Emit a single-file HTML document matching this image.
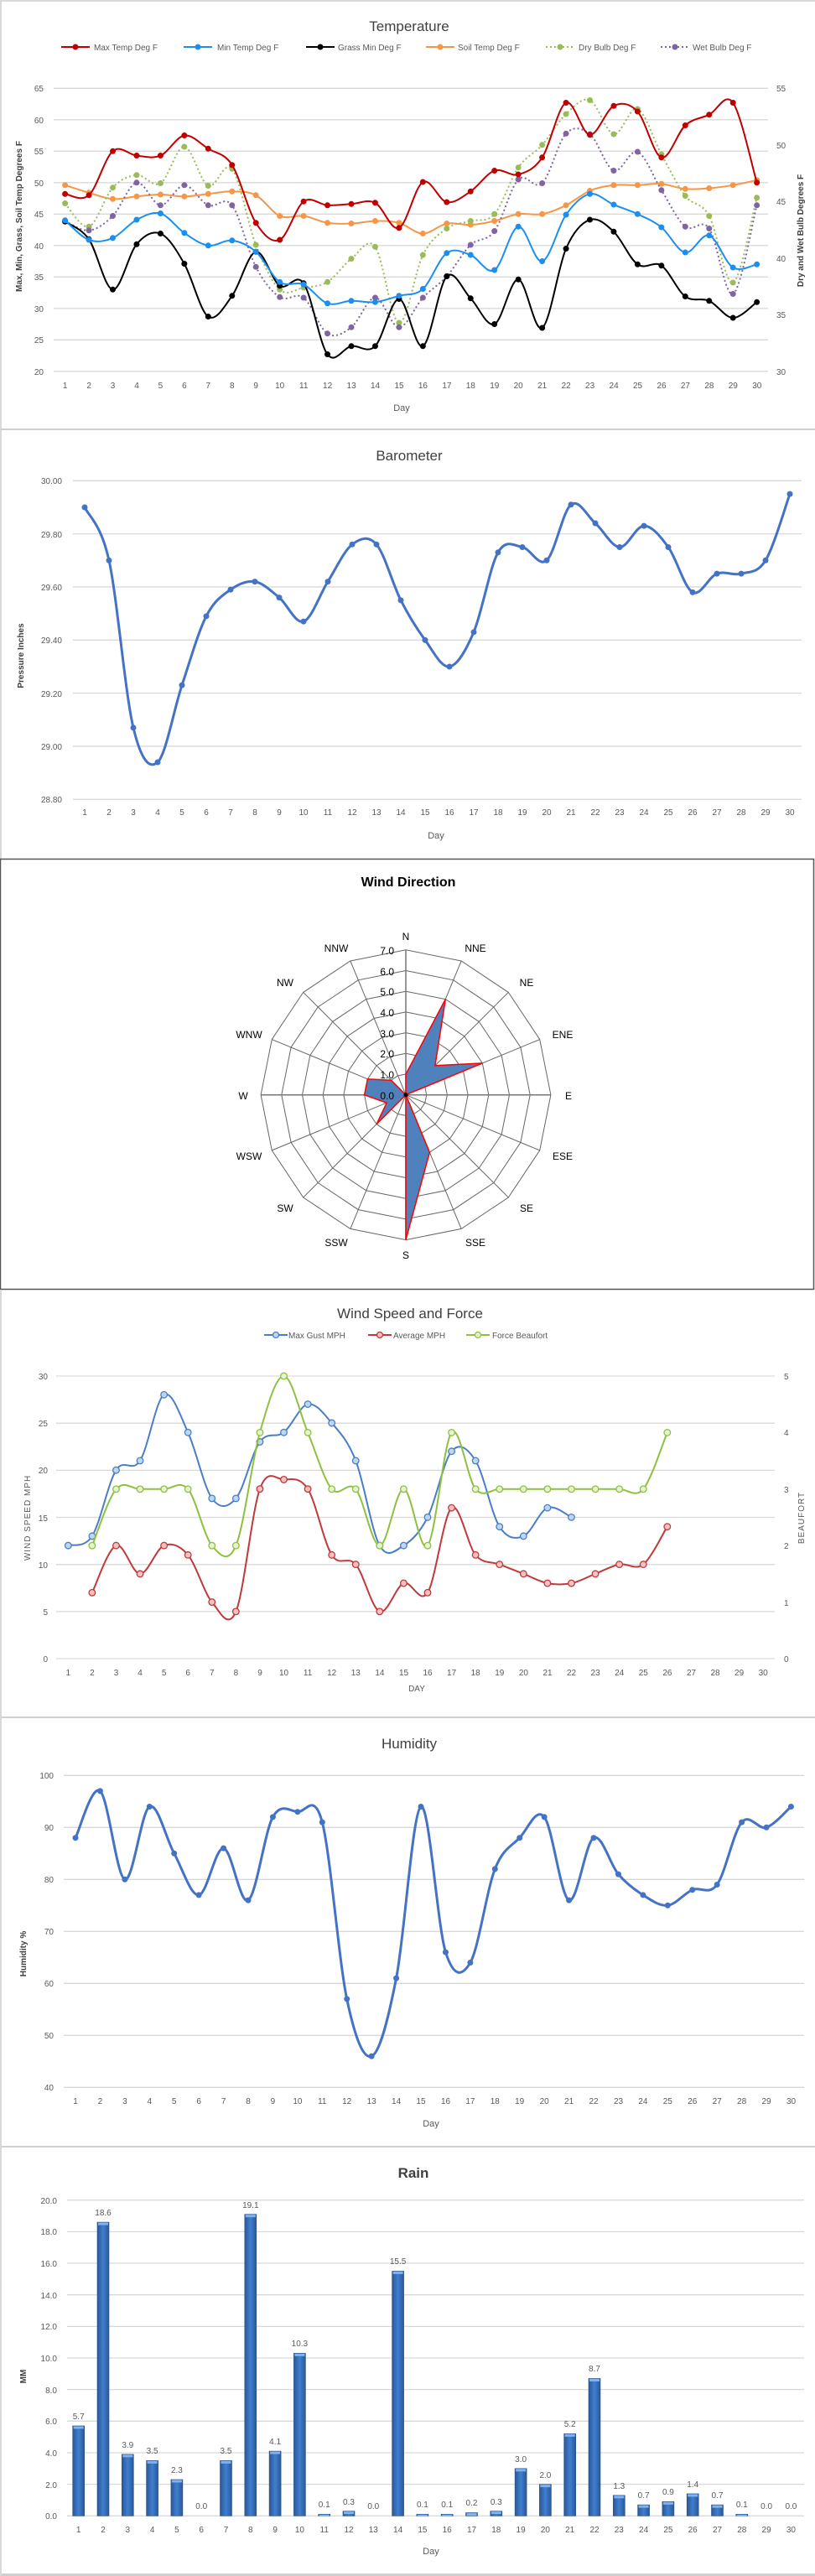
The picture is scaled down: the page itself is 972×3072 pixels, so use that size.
<!DOCTYPE html>
<html><head><meta charset="utf-8">
<style>
html,body{margin:0;padding:0;background:#fff;}
svg{display:block;}
text{font-family:"Liberation Sans",Arial,sans-serif;}
.t{font-size:10px;fill:#595959;}
.tt{font-size:17px;fill:#404040;}
.lg{font-size:10px;fill:#595959;}
.ax{font-size:10px;fill:#404040;font-weight:bold;}
.wd{font-size:12px;fill:#000;}
</style></head>
<body>
<svg id="s" width="972" height="3072" viewBox="0 0 972 3072" xmlns="http://www.w3.org/2000/svg">
<rect width="972" height="3072" fill="#fff"/>
<g id="grid"></g>
<!-- separators -->
<rect x="0" y="0" width="972" height="2" fill="#d9d9d9"/>
<rect x="0" y="0" width="2" height="1024" fill="#d9d9d9"/>
<rect x="0" y="511" width="972" height="2" fill="#d0d0d0"/>
<rect x="0.5" y="1024.5" width="970" height="513" fill="none" stroke="#555" stroke-width="1.5"/>
<rect x="0" y="2047" width="972" height="2" fill="#d0d0d0"/>
<rect x="0" y="2559" width="972" height="2" fill="#d0d0d0"/>
<rect x="0" y="3069" width="972" height="3" fill="#d0d0d0"/>
<rect x="0" y="1538" width="2" height="1534" fill="#d9d9d9"/>

<!-- ============ TEMPERATURE ============ -->
<text class="tt" x="488" y="37" text-anchor="middle">Temperature</text>
<g class="lg">
<text x="112" y="60">Max Temp Deg F</text>
<text x="259" y="60">Min Temp Deg F</text>
<text x="403" y="60">Grass Min Deg F</text>
<text x="546" y="60">Soil Temp Deg F</text>
<text x="690" y="60">Dry Bulb Deg F</text>
<text x="826" y="60">Wet Bulb Deg F</text>
</g>
<g class="t" text-anchor="end">
<text x="52" y="109">65</text><text x="52" y="147">60</text><text x="52" y="184">55</text><text x="52" y="222">50</text><text x="52" y="259">45</text><text x="52" y="297">40</text><text x="52" y="334">35</text><text x="52" y="372">30</text><text x="52" y="409">25</text><text x="52" y="447">20</text>
</g>
<g class="t">
<text x="926" y="109">55</text><text x="926" y="177">50</text><text x="926" y="244">45</text><text x="926" y="312">40</text><text x="926" y="379">35</text><text x="926" y="447">30</text>
</g>
<g class="t" text-anchor="middle">
<text x="77.6" y="463">1</text><text x="106.1" y="463">2</text><text x="134.5" y="463">3</text><text x="163" y="463">4</text><text x="191.4" y="463">5</text><text x="219.9" y="463">6</text><text x="248.3" y="463">7</text><text x="276.8" y="463">8</text><text x="305.2" y="463">9</text><text x="333.7" y="463">10</text><text x="362.2" y="463">11</text><text x="390.6" y="463">12</text><text x="419.1" y="463">13</text><text x="447.5" y="463">14</text><text x="476" y="463">15</text><text x="504.4" y="463">16</text><text x="532.9" y="463">17</text><text x="561.3" y="463">18</text><text x="589.8" y="463">19</text><text x="618.2" y="463">20</text><text x="646.7" y="463">21</text><text x="675.2" y="463">22</text><text x="703.6" y="463">23</text><text x="732.1" y="463">24</text><text x="760.5" y="463">25</text><text x="789" y="463">26</text><text x="817.4" y="463">27</text><text x="845.9" y="463">28</text><text x="874.3" y="463">29</text><text x="902.8" y="463">30</text>
<text x="479" y="490" style="font-size:11px">Day</text>
</g>
<text class="ax" transform="translate(26,258) rotate(-90)" text-anchor="middle">Max, Min, Grass, Soil Temp Degrees F</text>
<text class="ax" transform="translate(958,275) rotate(-90)" text-anchor="middle">Dry and Wet Bulb Degrees F</text>

<!-- ============ BAROMETER ============ -->
<text class="tt" x="488" y="549" text-anchor="middle">Barometer</text>
<g class="t" text-anchor="end">
<text x="74" y="577">30.00</text><text x="74" y="641">29.80</text><text x="74" y="704">29.60</text><text x="74" y="767">29.40</text><text x="74" y="831">29.20</text><text x="74" y="894">29.00</text><text x="74" y="957">28.80</text>
</g>
<g class="t" text-anchor="middle">
<text x="101" y="972">1</text><text x="130" y="972">2</text><text x="159" y="972">3</text><text x="188" y="972">4</text><text x="217" y="972">5</text><text x="246" y="972">6</text><text x="275" y="972">7</text><text x="304" y="972">8</text><text x="333" y="972">9</text><text x="362" y="972">10</text><text x="391" y="972">11</text><text x="420" y="972">12</text><text x="449" y="972">13</text><text x="478" y="972">14</text><text x="507" y="972">15</text><text x="536" y="972">16</text><text x="565" y="972">17</text><text x="594" y="972">18</text><text x="623" y="972">19</text><text x="652" y="972">20</text><text x="681" y="972">21</text><text x="710" y="972">22</text><text x="739" y="972">23</text><text x="768" y="972">24</text><text x="797" y="972">25</text><text x="826" y="972">26</text><text x="855" y="972">27</text><text x="884" y="972">28</text><text x="913" y="972">29</text><text x="942" y="972">30</text>
<text x="520" y="1000" style="font-size:11px">Day</text>
</g>
<text class="ax" transform="translate(28,782) rotate(-90)" text-anchor="middle">Pressure Inches</text>

<!-- ============ WIND DIRECTION ============ -->
<text x="487" y="1057" text-anchor="middle" style="font-size:16px;font-weight:bold;fill:#000">Wind Direction</text>
<g id="radar"></g>
<g class="wd" text-anchor="end">
<text x="470" y="1138">7.0</text><text x="470" y="1113" style="display:none">x</text>
<text x="470" y="1163">6.0</text><text x="470" y="1187">5.0</text><text x="470" y="1212">4.0</text><text x="470" y="1237">3.0</text><text x="470" y="1261">2.0</text><text x="470" y="1286">1.0</text><text x="470" y="1311">0.0</text>
</g>
<g class="wd" text-anchor="middle">
<text x="484" y="1121">N</text><text x="567" y="1135">NNE</text><text x="628" y="1176">NE</text><text x="671" y="1238">ENE</text><text x="678" y="1311">E</text><text x="671" y="1383">ESE</text><text x="628" y="1445">SE</text><text x="567" y="1486">SSE</text><text x="484" y="1501">S</text><text x="401" y="1486">SSW</text><text x="340" y="1445">SW</text><text x="297" y="1383">WSW</text><text x="290" y="1311">W</text><text x="297" y="1238">WNW</text><text x="340" y="1176">NW</text><text x="401" y="1135">NNW</text>
</g>

<!-- ============ WIND SPEED ============ -->
<text class="tt" x="489" y="1572" text-anchor="middle">Wind Speed and Force</text>
<g class="lg">
<text x="344" y="1596">Max Gust MPH</text>
<text x="469" y="1596">Average MPH</text>
<text x="587" y="1596">Force Beaufort</text>
</g>
<g class="t" text-anchor="end">
<text x="57" y="1645">30</text><text x="57" y="1701">25</text><text x="57" y="1757">20</text><text x="57" y="1814">15</text><text x="57" y="1870">10</text><text x="57" y="1926">5</text><text x="57" y="1982">0</text>
</g>
<g class="t">
<text x="935" y="1645">5</text><text x="935" y="1712">4</text><text x="935" y="1780">3</text><text x="935" y="1847">2</text><text x="935" y="1915">1</text><text x="935" y="1982">0</text>
</g>
<g class="t" text-anchor="middle">
<text x="81.3" y="1998">1</text><text x="109.9" y="1998">2</text><text x="138.5" y="1998">3</text><text x="167" y="1998">4</text><text x="195.6" y="1998">5</text><text x="224.2" y="1998">6</text><text x="252.8" y="1998">7</text><text x="281.4" y="1998">8</text><text x="310" y="1998">9</text><text x="338.5" y="1998">10</text><text x="367.1" y="1998">11</text><text x="395.7" y="1998">12</text><text x="424.3" y="1998">13</text><text x="452.9" y="1998">14</text><text x="481.5" y="1998">15</text><text x="510" y="1998">16</text><text x="538.6" y="1998">17</text><text x="567.2" y="1998">18</text><text x="595.8" y="1998">19</text><text x="624.4" y="1998">20</text><text x="653" y="1998">21</text><text x="681.5" y="1998">22</text><text x="710.1" y="1998">23</text><text x="738.7" y="1998">24</text><text x="767.3" y="1998">25</text><text x="795.9" y="1998">26</text><text x="824.5" y="1998">27</text><text x="853" y="1998">28</text><text x="881.6" y="1998">29</text><text x="910.2" y="1998">30</text>
<text x="497" y="2017">DAY</text>
</g>
<text class="t" transform="translate(36,1810) rotate(-90)" text-anchor="middle" style="letter-spacing:1px">WIND SPEED MPH</text>
<text class="t" transform="translate(959,1810) rotate(-90)" text-anchor="middle" style="letter-spacing:1px">BEAUFORT</text>

<!-- ============ HUMIDITY ============ -->
<text class="tt" x="488" y="2085" text-anchor="middle">Humidity</text>
<g class="t" text-anchor="end">
<text x="64" y="2121">100</text><text x="64" y="2183">90</text><text x="64" y="2245">80</text><text x="64" y="2307">70</text><text x="64" y="2369">60</text><text x="64" y="2431">50</text><text x="64" y="2493">40</text>
</g>
<g class="t" text-anchor="middle">
<text x="90" y="2509">1</text><text x="119.4" y="2509">2</text><text x="148.9" y="2509">3</text><text x="178.3" y="2509">4</text><text x="207.7" y="2509">5</text><text x="237.2" y="2509">6</text><text x="266.6" y="2509">7</text><text x="296" y="2509">8</text><text x="325.4" y="2509">9</text><text x="354.9" y="2509">10</text><text x="384.3" y="2509">11</text><text x="413.7" y="2509">12</text><text x="443.2" y="2509">13</text><text x="472.6" y="2509">14</text><text x="502" y="2509">15</text><text x="531.5" y="2509">16</text><text x="560.9" y="2509">17</text><text x="590.3" y="2509">18</text><text x="619.7" y="2509">19</text><text x="649.2" y="2509">20</text><text x="678.6" y="2509">21</text><text x="708" y="2509">22</text><text x="737.5" y="2509">23</text><text x="766.9" y="2509">24</text><text x="796.3" y="2509">25</text><text x="825.8" y="2509">26</text><text x="855.2" y="2509">27</text><text x="884.6" y="2509">28</text><text x="914" y="2509">29</text><text x="943.5" y="2509">30</text>
<text x="514" y="2536" style="font-size:11px">Day</text>
</g>
<text class="ax" transform="translate(31,2330) rotate(-90)" text-anchor="middle">Humidity %</text>

<!-- ============ RAIN ============ -->
<text x="493" y="2597" text-anchor="middle" style="font-size:17px;font-weight:bold;fill:#404040">Rain</text>
<g class="t" text-anchor="end">
<text x="68" y="2628">20.0</text><text x="68" y="2665">18.0</text><text x="68" y="2703">16.0</text><text x="68" y="2741">14.0</text><text x="68" y="2778">12.0</text><text x="68" y="2816">10.0</text><text x="68" y="2854">8.0</text><text x="68" y="2891">6.0</text><text x="68" y="2929">4.0</text><text x="68" y="2967">2.0</text><text x="68" y="3004">0.0</text>
</g>
<g id="bars"></g>
<g class="t" text-anchor="middle">
<text x="93.7" y="3020">1</text><text x="123" y="3020">2</text><text x="152.3" y="3020">3</text><text x="181.6" y="3020">4</text><text x="210.9" y="3020">5</text><text x="240.2" y="3020">6</text><text x="269.5" y="3020">7</text><text x="298.8" y="3020">8</text><text x="328.1" y="3020">9</text><text x="357.4" y="3020">10</text><text x="386.7" y="3020">11</text><text x="416" y="3020">12</text><text x="445.3" y="3020">13</text><text x="474.6" y="3020">14</text><text x="503.9" y="3020">15</text><text x="533.2" y="3020">16</text><text x="562.5" y="3020">17</text><text x="591.8" y="3020">18</text><text x="621.1" y="3020">19</text><text x="650.4" y="3020">20</text><text x="679.7" y="3020">21</text><text x="709" y="3020">22</text><text x="738.3" y="3020">23</text><text x="767.6" y="3020">24</text><text x="796.9" y="3020">25</text><text x="826.2" y="3020">26</text><text x="855.5" y="3020">27</text><text x="884.8" y="3020">28</text><text x="914.1" y="3020">29</text><text x="943.4" y="3020">30</text>
<text x="514" y="3046" style="font-size:11px">Day</text>
</g>
<g class="t" text-anchor="middle">
<text x="93.7" y="2885">5.7</text><text x="123" y="2642">18.6</text><text x="152.3" y="2919">3.9</text><text x="181.6" y="2926">3.5</text><text x="210.9" y="2949">2.3</text><text x="240.2" y="2992">0.0</text><text x="269.5" y="2926">3.5</text><text x="298.8" y="2633">19.1</text><text x="328.1" y="2915">4.1</text><text x="357.4" y="2798">10.3</text><text x="386.7" y="2990">0.1</text><text x="416" y="2987">0.3</text><text x="445.3" y="2992">0.0</text><text x="474.6" y="2700">15.5</text><text x="503.9" y="2990">0.1</text><text x="533.2" y="2990">0.1</text><text x="562.5" y="2988">0.2</text><text x="591.8" y="2987">0.3</text><text x="621.1" y="2936">3.0</text><text x="650.4" y="2955">2.0</text><text x="679.7" y="2894">5.2</text><text x="709" y="2828">8.7</text><text x="738.3" y="2968">1.3</text><text x="767.6" y="2979">0.7</text><text x="796.9" y="2975">0.9</text><text x="826.2" y="2966">1.4</text><text x="855.5" y="2979">0.7</text><text x="884.8" y="2990">0.1</text><text x="914.1" y="2992">0.0</text><text x="943.4" y="2992">0.0</text>
</g>
<text class="ax" transform="translate(31,2834) rotate(-90)" text-anchor="middle">MM</text>
<defs>
<linearGradient id="bg" x1="0" x2="1" y1="0" y2="0"><stop offset="0" stop-color="#2b5797"/><stop offset="0.5" stop-color="#3f7fd0"/><stop offset="1" stop-color="#2b5797"/></linearGradient>
</defs>
</svg>
<script>
(function(){
var NS="http://www.w3.org/2000/svg",svg=document.getElementById('s');
var grid=document.getElementById('grid');
function el(n,a,p){var e=document.createElementNS(NS,n);for(var k in a)e.setAttribute(k,a[k]);(p||svg).appendChild(e);return e;}
function smooth(pts){if(pts.length<2)return'';var d='M'+pts[0][0]+','+pts[0][1];
for(var i=0;i<pts.length-1;i++){var p0=pts[i-1]||pts[i],p1=pts[i],p2=pts[i+1],p3=pts[i+2]||p2;
var c1x=p1[0]+(p2[0]-p0[0])/6,c1y=p1[1]+(p2[1]-p0[1])/6,c2x=p2[0]-(p3[0]-p1[0])/6,c2y=p2[1]-(p3[1]-p1[1])/6;
d+=' C'+c1x.toFixed(1)+','+c1y.toFixed(1)+' '+c2x.toFixed(1)+','+c2y.toFixed(1)+' '+p2[0].toFixed(1)+','+p2[1].toFixed(1);}return d;}
function hgrid(x1,x2,ys){ys.forEach(function(y){el('line',{x1:x1,x2:x2,y1:y,y2:y,stroke:'#d9d9d9','stroke-width':1.3},grid);});}
function series(xs,vals,fy,o){var pts=[];vals.forEach(function(v,i){if(v!==null)pts.push([xs(i),fy(v)]);});
el('path',{d:smooth(pts),fill:'none',stroke:o.c,'stroke-width':o.w||2,'stroke-dasharray':o.dash||'none'});
pts.forEach(function(p){el('circle',{cx:p[0],cy:p[1],r:o.r||3.5,fill:o.f||o.c,stroke:o.c,'stroke-width':o.sw||0});});}
// Temperature
var tx=function(i){return 77.6+i*28.45;},ty=function(v){return 105.3+(65-v)*7.5;};
var g=[];for(var v=65;v>=20;v-=5)g.push(ty(v));hgrid(64,916,g);
var T={
max:[48.2,48,55,54.3,54.3,57.5,55.4,52.8,43.6,40.9,47,46.4,46.6,46.8,42.8,50.1,46.9,48.6,51.9,51.3,54,62.7,57.6,62.2,61.3,54,59.1,60.8,62.7,50],
min:[44,40.9,41.2,44.1,45.1,42,40,40.8,39,34.2,33.8,30.8,31.2,31,32,33.1,38.8,38.5,36.1,43,37.5,44.9,48.2,46.5,45,42.9,38.9,41.6,36.5,37],
grass:[43.8,41,33,40.2,41.9,37.1,28.7,32,39,33.6,34,22.7,24,24,31.5,24,35.1,31.6,27.5,34.6,26.9,39.5,44.1,42.2,37,36.8,31.9,31.2,28.5,31],
soil:[49.6,48.4,47.4,47.8,48.1,47.8,48.2,48.6,48,44.7,44.7,43.6,43.5,43.9,43.6,41.9,43.5,43.3,43.9,45,45,46.4,48.7,49.6,49.6,49.8,49,49.1,49.6,50.4],
dry:[46.7,43,49.2,51.2,49.9,55.7,49.5,52.2,40.1,33,33.3,34.2,37.9,39.8,27.7,38.5,42.7,43.9,45,52.4,56,60.9,63.1,57.7,61.7,54.5,47.9,44.7,34.1,47.6],
wet:[43.9,42.4,44.7,50,46.4,49.6,46.4,46.4,36.6,31.8,31.7,26,27,31.7,27,31.7,35.1,40.1,42.3,50.5,49.9,57.8,57.7,51.9,54.9,48.8,43,42.7,32.3,46.4]};
series(tx,T.soil,ty,{c:'#f79646'});
series(tx,T.dry,ty,{c:'#9bbb59',dash:'2,3'});
series(tx,T.wet,ty,{c:'#8064a2',dash:'2,3'});
series(tx,T.grass,ty,{c:'#000'});
series(tx,T.min,ty,{c:'#1a8ff0'});
series(tx,T.max,ty,{c:'#c00000'});
[[90,'#c00000',0],[236,'#1a8ff0',0],[382,'#000',0],[525,'#f79646',0],[668,'#9bbb59','2,3'],[805,'#8064a2','2,3']].forEach(function(l){
el('line',{x1:l[0]-17,x2:l[0]+17,y1:56,y2:56,stroke:l[1],'stroke-width':2,'stroke-dasharray':l[2]||'none'});el('circle',{cx:l[0],cy:56,r:3.5,fill:l[1]});});
// Barometer
var bx=function(i){return 101+i*29;},by=function(v){return 573.3+(30-v)*316.7;};
g=[];for(var k=0;k<7;k++)g.push(573.3+k*63.33);hgrid(87,956,g);
series(bx,[29.90,29.70,29.07,28.94,29.23,29.49,29.59,29.62,29.56,29.47,29.62,29.76,29.76,29.55,29.40,29.30,29.43,29.73,29.75,29.70,29.91,29.84,29.75,29.83,29.75,29.58,29.65,29.65,29.70,29.95],by,{c:'#4472c4',w:3,r:3.5});
// Radar
var R=document.getElementById('radar'),cx=484,cy=1305.7,rr=24.7;
for(var k=1;k<=7;k++){var p=[];for(var j=0;j<16;j++){var a=j*Math.PI/8;p.push((cx+k*rr*Math.sin(a)).toFixed(1)+','+(cy-k*rr*Math.cos(a)).toFixed(1));}
el('polygon',{points:p.join(' '),fill:'none',stroke:'#666','stroke-width':1},R);}
for(var j=0;j<16;j++){var a=j*Math.PI/8;el('line',{x1:cx,y1:cy,x2:cx+7*rr*Math.sin(a),y2:cy-7*rr*Math.cos(a),stroke:(j%4==0)?'#777':'#666','stroke-width':(j%4==0)?1.5:1},R);}
var wd=[1,5,2,4,0,0,0,3,7,0,2,1,2,2,1,0],p=[];
wd.forEach(function(v,j){var a=j*Math.PI/8;p.push((cx+v*rr*Math.sin(a)).toFixed(1)+','+(cy-v*rr*Math.cos(a)).toFixed(1));});
el('polygon',{points:p.join(' '),fill:'#4f81bd',stroke:'#ff0000','stroke-width':1.5},R);
el('circle',{cx:cx,cy:cy,r:2.5,fill:'#000'},R);
// Wind speed
var wx=function(i){return 81.3+i*28.58;},wy=function(v){return 1978-v*11.24;},fy=function(v){return 1978-v*67.4;};
g=[];for(var k=0;k<7;k++)g.push(1641+k*56.17);hgrid(67,924,g);
var N=null;
series(wx,[12,13,20,21,28,24,17,17,23,24,27,25,21,12,12,15,22,21,14,13,16,15],wy,{c:'#4a7ec6',f:'#bdd7ee',r:3.8,sw:1.3});
series(wx,[N,7,12,9,12,11,6,5,18,19,18,11,10,5,8,7,16,11,10,9,8,8,9,10,10,14],wy,{c:'#c0393b',f:'#f4c0c0',r:3.8,sw:1.3});
series(wx,[N,2,3,3,3,3,2,2,4,5,4,3,3,2,3,2,4,3,3,3,3,3,3,3,3,4],fy,{c:'#8dc13f',f:'#e6f2d0',r:3.8,sw:1.3});
[[329,'#4a7ec6','#bdd7ee'],[453,'#c0393b','#f4c0c0'],[570,'#8dc13f','#e6f2d0']].forEach(function(l){
el('line',{x1:l[0]-14,x2:l[0]+14,y1:1592,y2:1592,stroke:l[1],'stroke-width':2});el('circle',{cx:l[0],cy:1592,r:3.5,fill:l[2],stroke:l[1],'stroke-width':1.3});});
// Humidity
var hx=function(i){return 90+i*29.43;},hy=function(v){return 2117.3+(100-v)*6.2;};
g=[];for(var k=0;k<7;k++)g.push(2117.3+k*62);hgrid(76,959,g);
series(hx,[88,97,80,94,85,77,86,76,92,93,91,57,46,61,94,66,64,82,88,92,76,88,81,77,75,78,79,91,90,94],hy,{c:'#4472c4',w:3,r:3.5});
// Rain
g=[];for(var k=0;k<11;k++)g.push(2623.7+k*37.66);hgrid(80,959,g);
var B=document.getElementById('bars');
[5.7,18.6,3.9,3.5,2.3,0,3.5,19.1,4.1,10.3,0.1,0.3,0,15.5,0.1,0.1,0.2,0.3,3.0,2.0,5.2,8.7,1.3,0.7,0.9,1.4,0.7,0.1,0,0].forEach(function(v,i){
if(v<=0)return;var x=93.7+i*29.3,h=v*18.83;
el('rect',{x:x-7,y:3000.3-h,width:14,height:h,fill:'url(#bg)',stroke:'#2a4f85','stroke-width':0.6},B);
el('rect',{x:x-6,y:3000.3-h+0.5,width:12,height:Math.min(3,h),fill:'#7fb2ee'},B);});
})();
</script>
</body></html>
